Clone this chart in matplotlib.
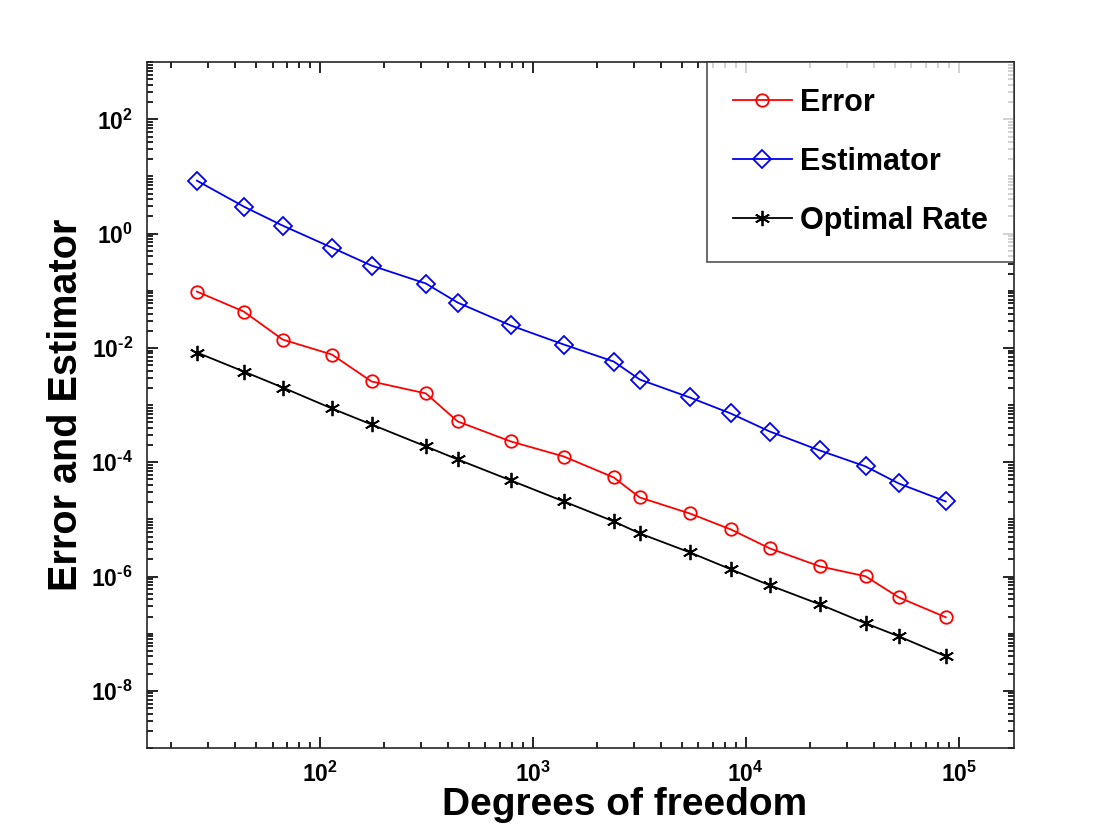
import numpy as np
import matplotlib
matplotlib.use("Agg")
import matplotlib.pyplot as plt
from matplotlib.ticker import LogLocator, NullFormatter

# data
dofs = [26.5, 44, 67, 114, 175, 315, 444, 789, 1400, 2400, 3180, 5460,
        8510, 12970, 22240, 36550, 52240, 86900]
error = [0.0968, 0.0433, 0.0140, 0.00767, 0.00259, 0.00160, 5.17e-4, 2.31e-4,
         1.26e-4, 5.42e-5, 2.42e-5, 1.27e-5, 6.68e-6, 3.11e-6, 1.51e-6,
         1.01e-6, 4.33e-7, 1.94e-7]
estimator = [8.45, 2.97, 1.38, 0.569, 0.276, 0.134, 0.0622, 0.0247, 0.01146,
             0.00578, 0.0028, 0.00136, 7.13e-4, 3.45e-4, 1.61e-4, 8.45e-5,
             4.26e-5, 2.06e-5]
optimal = [0.00831, 0.00386, 0.00203, 8.73e-4, 4.58e-4, 1.89e-4, 1.12e-4,
           4.81e-5, 2.06e-5, 9.23e-6, 5.69e-6, 2.65e-6, 1.34e-6, 7.02e-7,
           3.27e-7, 1.52e-7, 9.01e-8, 4.03e-8]

xticks = [1e2, 1e3, 1e4, 1e5]
xticklabels = ["$10^{2}$", "$10^{3}$", "$10^{4}$", "$10^{5}$"]
yticks = [1e-8, 1e-6, 1e-4, 1e-2, 1e0, 1e2]
yticklabels = ["$10^{\\text{-}8}$", "$10^{\\text{-}6}$", "$10^{\\text{-}4}$",
               "$10^{\\text{-}2}$", "$10^{0}$", "$10^{2}$"]

plt.rcParams["font.family"] = ["Liberation Sans", "DejaVu Sans"]
plt.rcParams["font.weight"] = "bold"
plt.rcParams["mathtext.fontset"] = "custom"
plt.rcParams["mathtext.rm"] = "Liberation Sans:bold"
plt.rcParams["mathtext.it"] = "Liberation Sans:bold"
plt.rcParams["mathtext.bf"] = "Liberation Sans:bold"

fig = plt.figure(figsize=(11.2, 8.4), dpi=100)
ax = fig.add_axes([0.131, 0.1095, 0.774, 0.8165])

ax.loglog(dofs, error, "-o", color="red", lw=1.3, ms=9, mfc="none", mew=1.3, label="Error")
ax.loglog(dofs, estimator, "-D", color="#0000ee", lw=1.3, ms=9, mfc="none", mew=1.3, label="Estimator")
ax.loglog(dofs, optimal, "-", marker=(6, 2, 0), color="black", lw=1.3, ms=11, mew=1.3,
          label="Optimal Rate")

ax.set_xlim(15.4, 1.81e5)
ax.set_ylim(1e-9, 1e3)

ax.set_xticks(xticks)
ax.set_xticklabels(xticklabels)
ax.set_yticks(yticks)
ax.set_yticklabels(yticklabels)
ax.yaxis.set_minor_locator(LogLocator(base=10, subs=np.arange(1, 10), numticks=30))
ax.yaxis.set_minor_formatter(NullFormatter())
ax.xaxis.set_minor_locator(LogLocator(base=10, subs=np.arange(2, 10), numticks=30))
ax.xaxis.set_minor_formatter(NullFormatter())

ax.tick_params(which="both", direction="in", top=True, right=True, labelsize=16.5, width=1.2)
ax.tick_params(which="major", length=8, pad=10)
ax.tick_params(which="minor", length=4)
for s in ax.spines.values():
    s.set_linewidth(1.2)
    s.set_color("#262626")

ax.set_xlabel("Degrees of freedom", fontsize=28, fontweight="bold", labelpad=0)
ax.xaxis.label.set_x(0.551)
ax.set_ylabel("Error and Estimator", fontsize=28.5, fontweight="bold", labelpad=4)

leg = ax.legend(loc="upper right", fontsize=22, frameon=True, fancybox=False,
                edgecolor="#262626", borderaxespad=0, labelspacing=0.95,
                handlelength=1.95, borderpad=0.85, handletextpad=0.25)
leg.get_frame().set_linewidth(1.2)

fig.savefig("out.png", dpi=100)
